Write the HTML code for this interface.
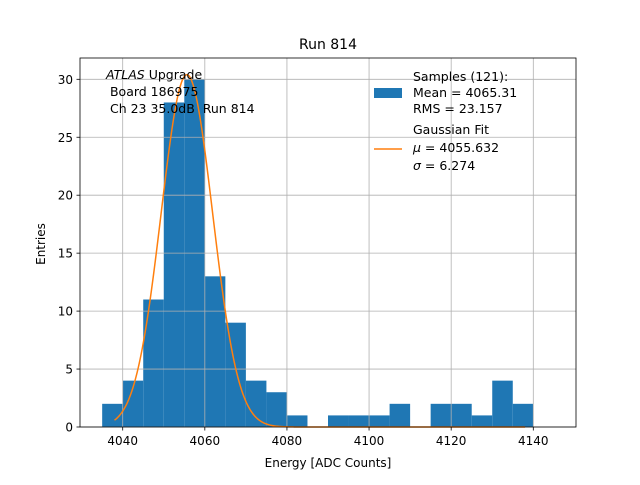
<!DOCTYPE html>
<html><head><meta charset="utf-8"><style>
body{margin:0;background:#fff}
svg text{font-family:"DejaVu Sans","Liberation Sans",sans-serif}
</style></head><body>
<svg id="c" width="640" height="480" viewBox="0 0 640 480" xmlns="http://www.w3.org/2000/svg">
<rect width="640" height="480" fill="#fff"/>
<g id="bars"></g>
<g id="grid"></g>
<path id="fit" fill="none" stroke="#ff7f0e" stroke-width="1.5"/>
<rect x="80" y="58" width="496" height="369" fill="none" stroke="#000" stroke-width="0.8"/>
<g id="ticks" font-size="12"></g>
<text x="328" y="49" text-anchor="middle" font-size="14">Run 814</text>
<text x="328" y="467" text-anchor="middle" font-size="12">Energy [ADC Counts]</text>
<text transform="translate(45,244) rotate(-90)" text-anchor="middle" font-size="12">Entries</text>
<g font-size="12.5">
<text x="106" y="79"><tspan font-style="italic">ATLAS</tspan> Upgrade</text>
<text x="106" y="96" xml:space="preserve"> Board 186975</text>
<text x="106" y="113" xml:space="preserve"> Ch 23 35.0dB  Run 814</text>
</g>
<g font-size="12.5">
<rect x="374" y="88" width="28" height="10" fill="#1f77b4"/>
<text x="413" y="81">Samples (121):</text>
<text x="413" y="97">Mean = 4065.31</text>
<text x="413" y="113">RMS = 23.157</text>
<line x1="374" y1="149" x2="402" y2="149" stroke="#ff7f0e" stroke-width="1.5"/>
<text x="413" y="134">Gaussian Fit</text>
<text x="413" y="152"><tspan font-style="italic">μ</tspan> = 4055.632</text>
<text x="413" y="170"><tspan font-style="italic">σ</tspan> = 6.274</text>
</g>
</svg>
<script>
const binEdges=[4035,4040,4045,4050,4055,4060,4065,4070,4075,4080,4085,4090,4095,4100,4105,4110,4115,4120,4125,4130,4135,4140];
const counts=[2,4,11,28,30,13,9,4,3,1,0,1,1,1,2,0,2,2,1,4,2];
const xTicks=[4040,4060,4080,4100,4120,4140];
const yTicks=[0,5,10,15,20,25,30];
const fitParams=[30.4,4055.632,6.274];
const fitRange=[4038,4138];
const X=v=>80+(v-4029.6)*496/120.8;
const Y=v=>427-v*(427-79.3)/30;
const ns="http://www.w3.org/2000/svg";
const grid=document.getElementById('grid'),bars=document.getElementById('bars'),ticks=document.getElementById('ticks');
function mk(t,a,p){const e=document.createElementNS(ns,t);for(const k in a)e.setAttribute(k,a[k]);p.appendChild(e);return e;}
counts.forEach((c,i)=>{if(!c)return;const x0=X(binEdges[i]),x1=X(binEdges[i+1]);
const r=mk('rect',{x:x0,y:Y(c),width:x1-x0,height:Y(0)-Y(c),fill:'#1f77b4'},bars);

});
xTicks.forEach(v=>{const x=X(v);
const g=mk('line',{x1:x,x2:x,y1:58,y2:427,stroke:'#b0b0b0','stroke-width':0.8},grid);


mk('line',{x1:x,x2:x,y1:427,y2:430.5,stroke:'#000','stroke-width':0.8},ticks);
const t=mk('text',{x:x,y:445,'text-anchor':'middle'},ticks);t.textContent=v;

});
yTicks.forEach(v=>{const y=Y(v);
const g=mk('line',{x1:80,x2:576,y1:y,y2:y,stroke:'#b0b0b0','stroke-width':0.8},grid);


mk('line',{x1:76.5,x2:80,y1:y,y2:y,stroke:'#000','stroke-width':0.8},ticks);
const t=mk('text',{x:73,y:y+4.5,'text-anchor':'end'},ticks);t.textContent=v;

});
let d='';const [A,mu,s]=fitParams;
for(let i=0;i<=400;i++){const v=fitRange[0]+(fitRange[1]-fitRange[0])*i/400;const f=A*Math.exp(-0.5*((v-mu)/s)**2);
d+=(i?'L':'M')+X(v).toFixed(2)+','+Y(f).toFixed(2);}
document.getElementById('fit').setAttribute('d',d);
</script>
</body></html>
